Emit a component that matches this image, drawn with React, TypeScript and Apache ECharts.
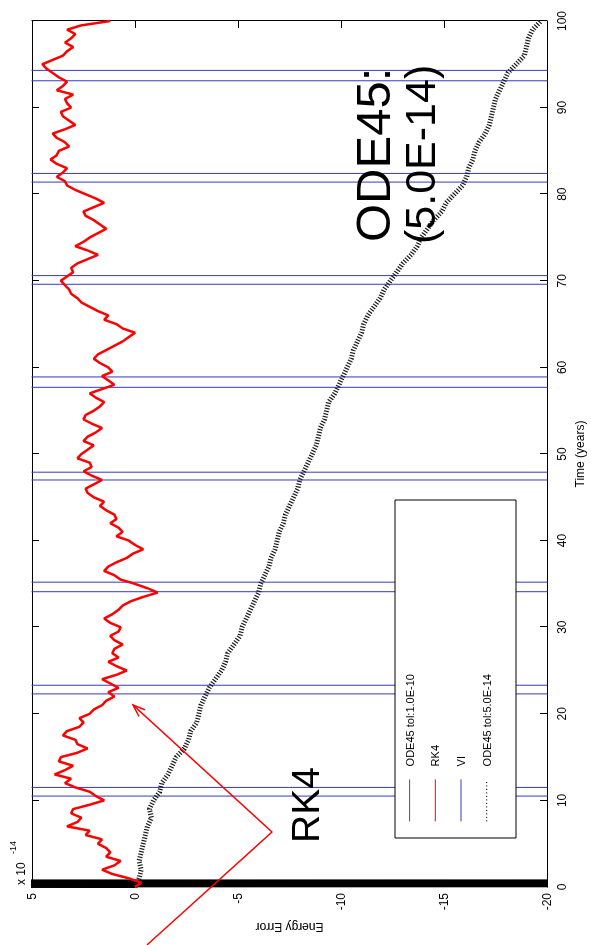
import React, { useEffect, useRef } from 'react';
import * as echarts from 'echarts';

// ---- data (original, unrotated orientation: x = time in years, y = energy error x 1e-14) ----
const RK4_STEP = 0.5; // years between RK4 samples
const ODE14_STEP = 1; // years between ODE45 tol 5.0E-14 samples

const rk4Energy = [
  0.0, -0.3, 0.3, 1.1, 1.6, 1.0, 0.7, 1.4, 1.2, 1.4,
  1.8, 1.6, 2.4, 2.2, 3.3, 2.8, 2.6, 3.1, 3.0, 2.2,
  1.5, 1.9, 2.2, 2.9, 3.4, 3.1, 3.9, 3.4, 3.0, 3.7,
  3.6, 2.8, 2.3, 2.8, 2.9, 3.5, 3.3, 2.7, 2.5, 2.7,
  2.2, 2.0, 1.6, 1.4, 1.0, 1.3, 0.8, 1.2, 1.6, 0.9,
  0.4, 0.9, 1.3, 0.8, 1.1, 1.0, 0.6, 1.0, 1.2, 0.8,
  0.7, 1.2, 1.5, 1.1, 0.8, 0.6, 0.2, -0.4, -1.1, -0.6,
  0.0, 0.7, 1.0, 1.5, 1.3, 0.9, 0.4, 0.1, -0.4, 0.0,
  0.3, 0.9, 0.6, 0.8, 1.2, 0.9, 1.0, 1.4, 1.7, 1.5,
  2.0, 2.3, 2.4, 2.0, 1.6, 2.1, 2.5, 2.1, 2.2, 2.8,
  2.6, 2.3, 2.0, 2.5, 2.3, 1.9, 1.6, 2.1, 2.5, 2.4,
  2.0, 1.7, 1.5, 1.9, 2.2, 1.6, 1.0, 1.3, 1.6, 1.1,
  1.3, 1.7, 2.0, 1.8, 1.4, 1.0, 0.6, 0.3, 0.0, 0.6,
  0.9, 1.5, 1.3, 1.8, 2.2, 2.6, 2.8, 3.1, 3.2, 3.4,
  3.6, 3.3, 3.0, 3.1, 2.8, 2.3, 1.8, 2.3, 2.9, 2.5,
  2.2, 1.8, 1.4, 1.7, 2.0, 2.4, 2.5, 2.0, 1.5, 1.9,
  2.4, 2.9, 3.3, 3.4, 3.8, 3.5, 3.3, 3.8, 4.1, 3.8,
  3.7, 3.2, 3.4, 3.8, 4.0, 3.4, 2.9, 3.2, 3.5, 3.6,
  3.1, 3.3, 3.4, 3.0, 3.8, 3.5, 3.3, 3.7, 4.0, 4.3,
  4.5, 4.0, 3.5, 3.3, 3.0, 3.4, 3.1, 2.9, 3.3, 2.6,
  1.2,
];

const ode14Energy = [
  0.0, -0.2, -0.3, -0.2, -0.3, -0.4, -0.5, -0.6, -0.8, -0.7,
  -0.9, -1.2, -1.3, -1.6, -1.8, -2.0, -2.4, -2.6, -2.7, -3.0,
  -3.1, -3.2, -3.4, -3.6, -3.9, -4.2, -4.4, -4.5, -4.8, -5.1,
  -5.2, -5.4, -5.6, -5.8, -6.0, -6.1, -6.3, -6.5, -6.6, -6.8,
  -6.9, -7.0, -7.2, -7.3, -7.5, -7.7, -7.9, -8.0, -8.2, -8.4,
  -8.6, -8.8, -8.9, -9.0, -9.2, -9.3, -9.4, -9.7, -9.9, -10.1,
  -10.3, -10.5, -10.6, -10.8, -11.0, -11.1, -11.3, -11.6, -11.9, -12.1,
  -12.4, -12.7, -13.0, -13.4, -13.7, -13.9, -14.2, -14.5, -14.9, -15.1,
  -15.5, -15.9, -16.1, -16.2, -16.4, -16.5, -16.7, -17.0, -17.2, -17.3,
  -17.4, -17.5, -17.7, -17.9, -18.1, -18.5, -18.9, -19.0, -19.1, -19.3,
  -19.7,
];

// ODE45 tol 1.0E-10: violent oscillation in the first year, then off the scale
const ode10Times = [0, 0.05, 0.1, 0.15, 0.2, 0.25, 0.3, 0.35, 0.4, 0.45, 0.5, 0.55, 0.6, 0.65, 0.7, 0.75, 0.8, 100];
const ode10Energy = [0, 90, -90, 90, -90, 90, -90, 90, -90, 90, -90, 90, -90, 90, -90, 90, -300, -30000];

// VI: off-scale except for the near-encounter spikes that cross the whole axis
const viSpikes = [
  [10.5, 11.5], [22.3, 23.3], [34.1, 35.2], [47.0, 47.9],
  [57.7, 58.9], [69.6, 70.6], [81.4, 82.4], [93.1, 94.3],
];
const VI_LEVEL = 40;

const timeTicks = { min: 0, max: 100, interval: 10 };
const energyTicks = { min: -20, max: 5, interval: 5 };

const FONT = 'Liberation Sans, Arial, Helvetica, sans-serif';

function buildOption() {
  const rk4 = rk4Energy.map((v, i) => [i * RK4_STEP, v]);
  const ode14 = ode14Energy.map((v, i) => [i * ODE14_STEP, v]);
  const ode10 = ode10Times.map((t, i) => [t, ode10Energy[i]]);
  const vi: number[][] = [[0, VI_LEVEL]];
  viSpikes.forEach(([a, b]) => {
    vi.push([a, VI_LEVEL], [a, -VI_LEVEL], [b, -VI_LEVEL], [b, VI_LEVEL]);
  });
  vi.push([100, VI_LEVEL]);

  const axisCommon = {
    axisLine: { show: true, onZero: false, lineStyle: { color: '#000', width: 1 } },
    axisTick: { show: true, inside: true, length: 7, lineStyle: { color: '#000' } },
    splitLine: { show: false },
  };

  const arrowTip = [240, 133];
  const arrowVertex = [113, 272];
  const arrowEnd = [0, 147];
  const hidden = { opacity: 0, color: 'rgba(0,0,0,0)', borderWidth: 0 };

  return {
    animation: false,
    backgroundColor: '#fff',
    textStyle: { fontFamily: FONT },
    grid: { left: 58, right: 21, top: 32, bottom: 39, containLabel: false },
    xAxis: [
      {
        type: 'value', ...timeTicks, position: 'bottom', ...axisCommon,
        axisLabel: { color: '#000', fontSize: 12, margin: 9, fontFamily: FONT },
        name: 'Time (years)', nameLocation: 'middle', nameGap: 27,
        nameTextStyle: { color: '#000', fontSize: 12, fontFamily: FONT },
      },
      {
        type: 'value', ...timeTicks, position: 'top', ...axisCommon,
        axisLabel: { show: false },
      },
    ],
    yAxis: [
      {
        type: 'value', ...energyTicks, position: 'left', ...axisCommon,
        axisLabel: { color: '#000', fontSize: 12, margin: 6, fontFamily: FONT },
        name: 'Energy Error', nameLocation: 'middle', nameGap: 31, nameRotate: 90,
        nameTextStyle: { color: '#000', fontSize: 12, fontFamily: FONT },
      },
      {
        type: 'value', ...energyTicks, position: 'right', ...axisCommon,
        axisLabel: { show: false },
      },
    ],
    legend: {
      orient: 'vertical', left: 123, top: 404, padding: 0, z: 110,
      itemWidth: 42, itemHeight: 14, itemGap: 14.5,
      textStyle: { color: '#000', fontSize: 11, fontFamily: FONT, padding: [0, 0, 0, 8] },
      data: [
        { name: 'ODE45 tol:1.0E-10', lineStyle: { width: 1, color: '#555' }, itemStyle: hidden },
        { name: 'RK4', lineStyle: { width: 1 }, itemStyle: hidden },
        { name: 'VI', lineStyle: { width: 1 }, itemStyle: hidden },
        { name: 'ODE45 tol:5.0E-14', lineStyle: { width: 1.2, type: [1, 2.5] }, itemStyle: hidden },
      ],
    },
    series: [
      {
        name: 'ODE45 tol:1.0E-10', type: 'line', data: ode10, symbol: 'none', clip: true,
        lineStyle: { color: '#000', width: 2 }, itemStyle: { color: '#000' }, z: 2,
      },
      {
        name: 'VI', type: 'line', data: vi, symbol: 'none', clip: true,
        lineStyle: { color: '#3838bb', width: 1 }, itemStyle: { color: '#3838bb' }, z: 3,
      },
      {
        name: 'ODE45 tol:5.0E-14', type: 'line', data: ode14, symbol: 'none', clip: true,
        lineStyle: { color: '#1a1a1a', width: 5, type: [1.2, 1.6] }, itemStyle: { color: '#000' }, z: 4,
      },
      {
        name: 'RK4', type: 'line', data: rk4, symbol: 'none', clip: true,
        lineStyle: { color: '#ff0000', width: 2.5 }, itemStyle: { color: '#ff0000' }, z: 5,
      },
    ],
    graphic: [
      {
        type: 'rect', z: 100,
        shape: { x: 107, y: 395, width: 338, height: 121 },
        style: { fill: '#fff', stroke: '#000', lineWidth: 1 },
      },
      {
        type: 'text', z: 120, x: 60, y: 27,
        style: { text: 'x 10', fontSize: 12, fontFamily: FONT, fill: '#000', verticalAlign: 'bottom' },
      },
      {
        type: 'text', z: 120, x: 91, y: 17,
        style: { text: '-14', fontSize: 9, fontFamily: FONT, fill: '#000', verticalAlign: 'bottom' },
      },
      {
        type: 'text', z: 120, x: 102, y: 305,
        style: { text: 'RK4', fontSize: 39, fontFamily: FONT, fill: '#000', verticalAlign: 'middle' },
      },
      {
        type: 'text', z: 120, x: 703, y: 373,
        style: { text: 'ODE45:', fontSize: 49, fontFamily: FONT, fill: '#000', verticalAlign: 'middle' },
      },
      {
        type: 'text', z: 120, x: 701, y: 420,
        style: { text: '(5.0E-14)', fontSize: 43, fontFamily: FONT, fill: '#000', verticalAlign: 'middle' },
      },
      {
        type: 'polyline', z: 120,
        shape: { points: [arrowTip, arrowVertex, arrowEnd] },
        style: { stroke: '#ff0000', lineWidth: 1.5, fill: 'none' },
      },
      {
        type: 'polyline', z: 120,
        shape: { points: [[235.2, 144.9], arrowTip, [228.6, 138.9]] },
        style: { stroke: '#ff0000', lineWidth: 1.5, fill: 'none' },
      },
    ],
  };
}

export default function App() {
  const ref = useRef<HTMLDivElement>(null);
  useEffect(() => {
    if (!ref.current) return;
    const chart = echarts.init(ref.current, null, { renderer: 'svg' });
    chart.setOption(buildOption() as any);
    return () => chart.dispose();
  }, []);
  return (
    <div
      style={{
        position: 'fixed', left: 0, top: 0, width: 945, height: 591,
        transformOrigin: '0 0', transform: 'translate(0px, 945px) rotate(-90deg)',
        background: '#fff', overflow: 'hidden',
      }}
    >
      <div ref={ref} style={{ width: 945, height: 591 }} />
    </div>
  );
}
